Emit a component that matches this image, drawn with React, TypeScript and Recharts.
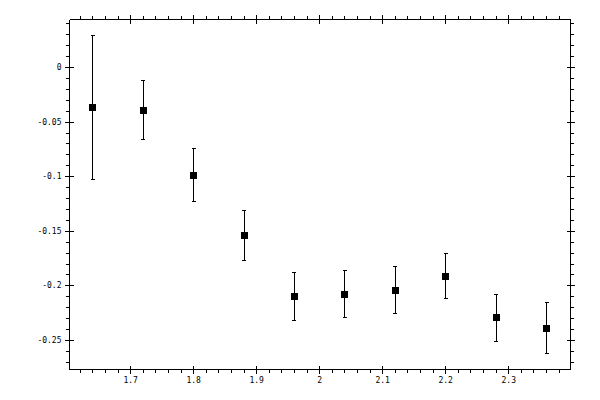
import React from 'react';
import { ScatterChart, Scatter, XAxis, YAxis, ErrorBar } from 'recharts';

const xValues = [1.64, 1.72, 1.8, 1.88, 1.96, 2.04, 2.12, 2.2, 2.28, 2.36];
const yValues = [-0.0366, -0.0393, -0.0987, -0.1536, -0.2093, -0.2075, -0.2038, -0.191, -0.2294, -0.2386];
const yErrors = [0.0658, 0.027, 0.0244, 0.0229, 0.022, 0.0219, 0.0215, 0.021, 0.0215, 0.0233];

const xMajorTicks = [1.7, 1.8, 1.9, 2.0, 2.1, 2.2, 2.3];
const xTickLabels = ['1.7', '1.8', '1.9', '2', '2.1', '2.2', '2.3'];
const xMinorTicks = [
  1.62, 1.64, 1.66, 1.68, 1.72, 1.74, 1.76, 1.78, 1.82, 1.84, 1.86, 1.88,
  1.92, 1.94, 1.96, 1.98, 2.02, 2.04, 2.06, 2.08, 2.12, 2.14, 2.16, 2.18,
  2.22, 2.24, 2.26, 2.28, 2.32, 2.34, 2.36, 2.38,
];

const yMajorTicks = [0, -0.05, -0.1, -0.15, -0.2, -0.25];
const yTickLabels = ['0', '-0.05', '-0.1', '-0.15', '-0.2', '-0.25'];
const yMinorTicks = [
  0.04, 0.03, 0.02, 0.01, -0.01, -0.02, -0.03, -0.04, -0.06, -0.07, -0.08, -0.09,
  -0.11, -0.12, -0.13, -0.14, -0.16, -0.17, -0.18, -0.19, -0.21, -0.22, -0.23, -0.24,
  -0.26, -0.27,
];

const xDomain = [1.603, 2.398];
const yDomain = [-0.2766, 0.044];

const data = xValues.map((x, i) => ({ x, y: yValues[i], err: yErrors[i] }));
const xTicks = [...xMajorTicks, ...xMinorTicks].sort((a, b) => a - b);
const yTicks = [...yMajorTicks, ...yMinorTicks].sort((a, b) => a - b);

const FONT = '"DejaVu Sans Mono", monospace';

function findLabel(v: number, majors: number[], labels: string[]) {
  const i = majors.findIndex((m) => Math.abs(m - v) < 1e-9);
  return i >= 0 ? labels[i] : null;
}

function makeTick(side: 'bottom' | 'top' | 'left' | 'right') {
  return (props: any) => {
    const { x, y, payload } = props;
    const v = payload.value;
    const isX = side === 'bottom' || side === 'top';
    const label = isX ? findLabel(v, xMajorTicks, xTickLabels) : findLabel(v, yMajorTicks, yTickLabels);
    const major = label !== null;
    const inner = major ? 4 : 0;
    const outer = major ? 4.5 : 3.5;
    const lp = { stroke: '#000', strokeWidth: 1, shapeRendering: 'crispEdges' as const };
    let line;
    let text = null;
    if (side === 'bottom') {
      line = <line x1={x} x2={x} y1={y - inner} y2={y + outer} {...lp} />;
      if (major)
        text = (
          <text x={x} y={y + 11} textAnchor="middle" dominantBaseline="central" fontFamily={FONT} fontSize={8} fill="#000">
            {label}
          </text>
        );
    } else if (side === 'top') {
      line = <line x1={x} x2={x} y1={y + inner} y2={y - outer} {...lp} />;
    } else if (side === 'left') {
      line = <line x1={x + inner} x2={x - outer} y1={y} y2={y} {...lp} />;
      if (major)
        text = (
          <text x={x - 8} y={y} textAnchor="end" dominantBaseline="central" fontFamily={FONT} fontSize={8} fill="#000">
            {label}
          </text>
        );
    } else {
      line = <line x1={x - inner} x2={x + outer} y1={y} y2={y} {...lp} />;
    }
    return (
      <g>
        {line}
        {text}
      </g>
    );
  };
}

const SquareShape = (props: any) => {
  const { cx, cy } = props;
  if (cx == null || cy == null) return null;
  return <rect x={cx - 3.5} y={cy - 3.5} width={7} height={7} fill="#000" shapeRendering="crispEdges" />;
};

const axisLineStyle = { stroke: '#000', strokeWidth: 1, shapeRendering: 'crispEdges' };

export default function App() {
  return (
    <div style={{ position: 'absolute', left: 0, top: 0, width: 600, height: 400, background: '#fff' }}>
      <ScatterChart width={600} height={400} margin={{ top: 0, right: 0, bottom: 0, left: 0 }}>
        <XAxis
          xAxisId="bottom"
          dataKey="x"
          type="number"
          orientation="bottom"
          domain={xDomain}
          allowDataOverflow
          ticks={xTicks}
          interval={0}
          height={30.5}
          tickSize={0}
          tickMargin={0}
          tickLine={false}
          axisLine={axisLineStyle}
          tick={makeTick('bottom')}
        />
        <XAxis
          xAxisId="top"
          dataKey="x"
          type="number"
          orientation="top"
          domain={xDomain}
          allowDataOverflow
          ticks={xTicks}
          interval={0}
          height={19.5}
          tickSize={0}
          tickMargin={0}
          tickLine={false}
          axisLine={axisLineStyle}
          tick={makeTick('top')}
        />
        <YAxis
          yAxisId="left"
          dataKey="y"
          type="number"
          orientation="left"
          domain={yDomain}
          allowDataOverflow
          ticks={yTicks}
          interval={0}
          width={69.5}
          tickSize={0}
          tickMargin={0}
          tickLine={false}
          axisLine={axisLineStyle}
          tick={makeTick('left')}
        />
        <YAxis
          yAxisId="right"
          dataKey="y"
          type="number"
          orientation="right"
          domain={yDomain}
          allowDataOverflow
          ticks={yTicks}
          interval={0}
          width={29.5}
          tickSize={0}
          tickMargin={0}
          tickLine={false}
          axisLine={axisLineStyle}
          tick={makeTick('right')}
        />
        <Scatter
          data={data}
          xAxisId="bottom"
          yAxisId="left"
          fill="#000"
          shape={SquareShape}
          isAnimationActive={false}
        >
          <ErrorBar
            dataKey="err"
            direction="y"
            width={2}
            stroke="#000"
            strokeWidth={1}
            shapeRendering="crispEdges"
            isAnimationActive={false}
          />
        </Scatter>
        <Scatter
          data={data}
          xAxisId="top"
          yAxisId="right"
          shape={() => null}
          isAnimationActive={false}
        />
      </ScatterChart>
    </div>
  );
}
